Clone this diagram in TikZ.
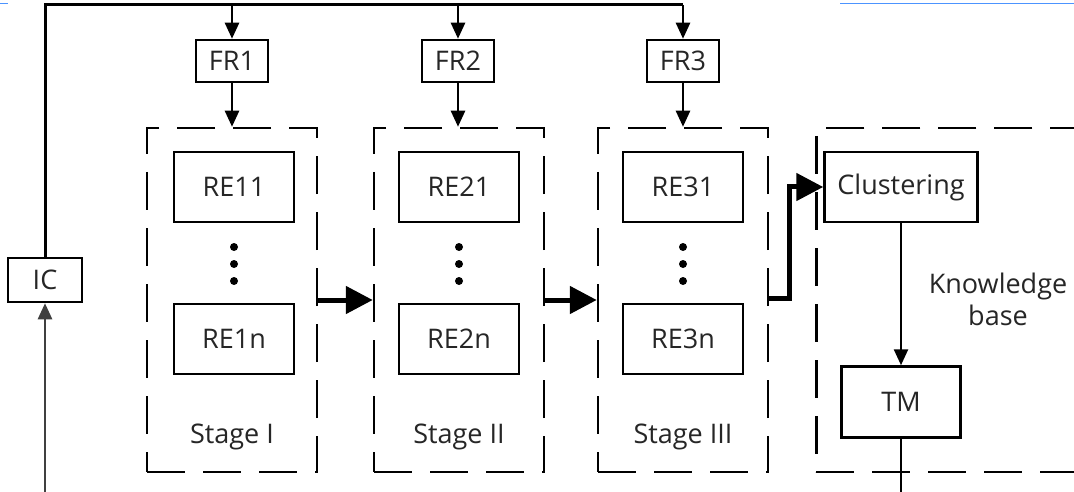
\documentclass[tikz,border=0pt]{standalone}
\usepackage{fontspec}
\setmainfont{Open Sans}
\usetikzlibrary{arrows.meta,positioning}
\begin{document}
\begin{tikzpicture}[x=1pt,y=-1pt,
  box/.style={draw=black,line width=2.5pt,rectangle,inner sep=0pt,font=\fontsize{27}{31}\selectfont,text=black!85},
  stagebox/.style={draw=black,line width=2.5pt,dash pattern=on 38pt off 18pt,rectangle,inner sep=0pt,minimum width=170pt,minimum height=344pt},
  arr/.style={line width=2.5pt,-{Triangle[length=16pt,width=14pt]}},
  thickarr/.style={line width=5pt,-{Triangle[length=27pt,width=27pt]}},
  lbl/.style={font=\fontsize{27}{32}\selectfont,text=black!85,align=center,inner sep=0pt},
  dot/.style={fill=black,circle,inner sep=0pt,minimum size=8pt}
]
\useasboundingbox (0,0) rectangle (1074,492);
\clip (0,0) rectangle (1074,492);
\fill[white] (0,0) rectangle (1074,492);
% faint screenshot line
\draw[blue!60!cyan!70,line width=1pt] (840,4) -- (1074,4);
\draw[blue!60!cyan!70,line width=1pt] (0,4) -- (8,4);

% feedback boxes
\node[box,minimum width=74pt,minimum height=44pt] (ic) at (45,280) {IC};
\node[box,minimum width=72pt,minimum height=42pt] (fr1) at (232,61) {FR1};
\node[box,minimum width=72pt,minimum height=42pt] (fr2) at (458,61) {FR2};
\node[box,minimum width=72pt,minimum height=42pt] (fr3) at (683,61) {FR3};

% stages
\node[stagebox] (s1) at (232,300) {};
\node[stagebox] (s2) at (459,300) {};
\node[stagebox] (s3) at (683,300) {};
\node[stagebox,minimum width=300pt,anchor=west] (kb) at (815,300) {};

\node[box,minimum width=120pt,minimum height=70pt] (re11) at (234,187) {RE11};
\node[box,minimum width=120pt,minimum height=70pt] (re1n) at (234,339) {RE1n};
\node[box,minimum width=120pt,minimum height=70pt] (re21) at (459,187) {RE21};
\node[box,minimum width=120pt,minimum height=70pt] (re2n) at (459,339) {RE2n};
\node[box,minimum width=120pt,minimum height=70pt] (re31) at (683,187) {RE31};
\node[box,minimum width=120pt,minimum height=70pt] (re3n) at (683,339) {RE3n};

\foreach \n/\xx in {a/234,b/459,c/683}{
  \node[dot] (\n1) at (\xx,247) {};
  \node[dot] (\n2) at (\xx,264) {};
  \node[dot] (\n3) at (\xx,281) {};
}

\node[lbl] (l1) at (232,437) {Stage I};
\node[lbl] (l2) at (459,437) {Stage II};
\node[lbl] (l3) at (683,437) {Stage III};

\node[box,minimum width=153pt,minimum height=70pt] (clus) at (901,187) {Clustering};
\node[box,minimum width=119pt,minimum height=71pt] (tm) at (901,402) {TM};
\node[lbl] (kbl) at (998,299) {Knowledge\\base};

% top feedback line
\coordinate (t0) at (45,5);
\coordinate (t1) at (232,5);
\coordinate (t2) at (458,5);
\coordinate (t3) at (683,5);
\coordinate (bot) at (45,500);
\coordinate (tmbot) at (901,500);
\draw[line width=3pt] (ic.north) -- (t0) -- (t3);
\draw[arr] (t1) -- (fr1.north);
\draw[arr] (t2) -- (fr2.north);
\draw[arr] (t3) -- (fr3.north);
\draw[arr] (fr1.south) -- (s1.north);
\draw[arr] (fr2.south) -- (s2.north -| fr2.south);
\draw[arr] (fr3.south) -- (s3.north);
\draw[arr,draw=black!75] (bot) -- (ic.south);

% stage connections
\draw[thickarr] (s1.east) -- (s2.west);
\draw[thickarr] (s2.east) -- (s3.west);
\draw[thickarr] ([yshift=2pt]s3.east) -- ++(20,0) |- (clus.west);

\draw[arr] (clus.south) -- (tm.north);
\draw[line width=2.5pt] (tm.south) -- (tmbot);
\end{tikzpicture}
\end{document}
